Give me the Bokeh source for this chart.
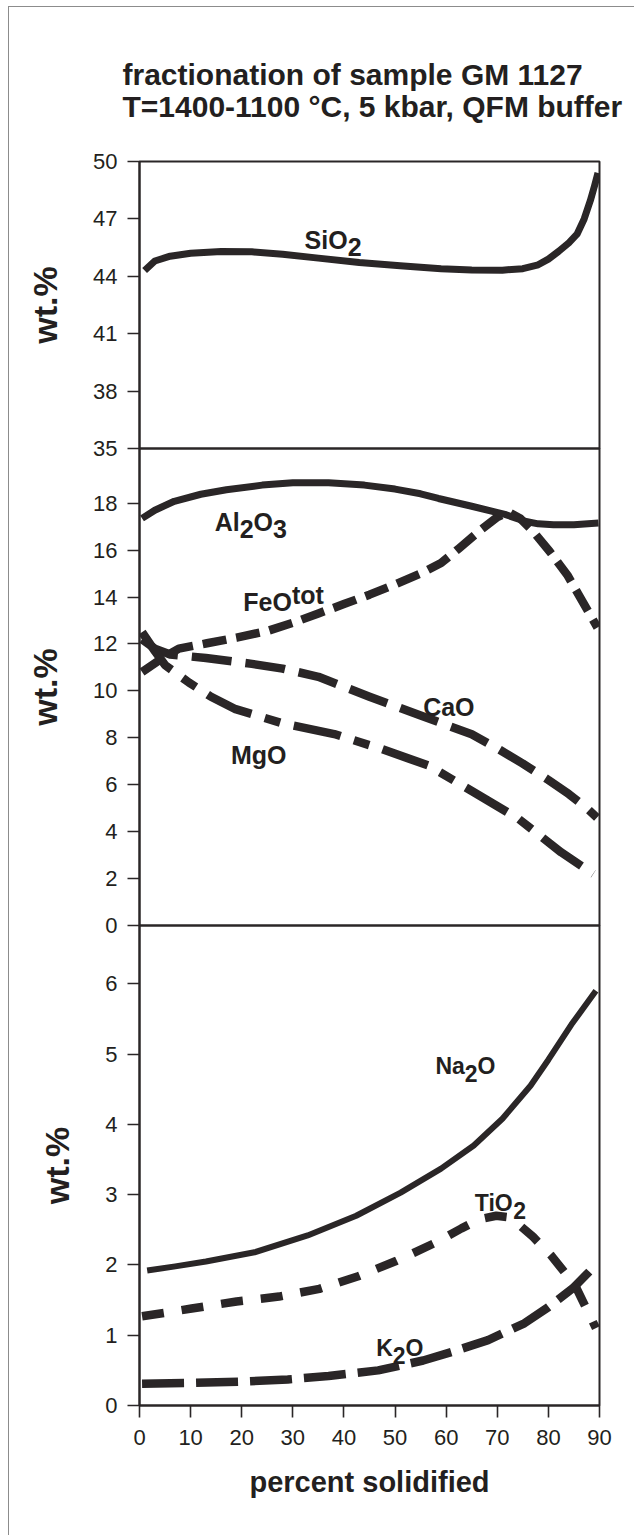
from bokeh.plotting import figure
from bokeh.models import Range1d, FixedTicker, Label, Title
from bokeh.layouts import column
from bokeh.embed import file_html
from bokeh.resources import INLINE

# ---------------- data ----------------
x_ticks = [0, 10, 20, 30, 40, 50, 60, 70, 80, 90]
top_ticks = [35, 38, 41, 44, 47, 50]
mid_ticks = [0, 2, 4, 6, 8, 10, 12, 14, 16, 18]
low_ticks = [0, 1, 2, 3, 4, 5, 6]

sio2_x = [1, 3, 6, 10, 16, 22, 28, 35, 43, 51, 59, 65, 71, 75, 78, 80, 82, 84, 85.6, 87, 88.2, 89, 89.7]
sio2_y = [44.3, 44.8, 45.05, 45.2, 45.3, 45.28, 45.15, 44.95, 44.72, 44.55, 44.4, 44.33, 44.32, 44.4,
          44.6, 44.9, 45.3, 45.75, 46.2, 47.0, 47.95, 48.7, 49.4]

al2o3_x = [0.5, 3, 6.8, 12, 17, 24, 30, 37, 44, 50, 55, 58.5, 65, 71.5, 75.4, 78, 81, 85, 89.8]
al2o3_y = [17.35, 17.7, 18.08, 18.38, 18.57, 18.77, 18.87, 18.87, 18.77, 18.6, 18.4, 18.2, 17.87,
           17.52, 17.23, 17.12, 17.08, 17.08, 17.15]

feo_x = [0.5, 4.5, 7.7, 13.2, 19, 25, 30, 35, 40, 45, 50, 55, 59, 62.5, 67, 70, 72.2, 74.5, 77,
         80.3, 83.7, 86.8, 89.6]
feo_y = [10.8, 11.4, 11.8, 12.03, 12.27, 12.55, 12.9, 13.3, 13.7, 14.1, 14.54, 15.0, 15.45, 16.07,
         16.9, 17.4, 17.62, 17.35, 16.8, 15.93, 14.94, 13.76, 12.7]

cao_x = [0.5, 3, 6, 13, 22, 28, 35, 45, 55, 65, 70, 75, 80, 84, 87, 89.5]
cao_y = [12.2, 11.8, 11.55, 11.4, 11.15, 10.95, 10.6, 9.75, 8.95, 8.15, 7.55, 6.9, 6.2, 5.6, 5.1, 4.6]

mgo_x = [0.5, 3, 5, 9.7, 14, 18.8, 28.1, 38.1, 47.4, 56.6, 65.5, 74.2, 82.5, 88.8]
mgo_y = [12.5, 11.7, 11.1, 10.35, 9.75, 9.22, 8.61, 8.16, 7.52, 6.81, 5.67, 4.54, 3.12, 2.2]

na2o_x = [1.5, 7, 13, 22.5, 32.9, 42.4, 51.1, 59, 65.4, 71, 76.5, 80, 84.5, 89.3]
na2o_y = [1.92, 1.98, 2.05, 2.18, 2.42, 2.70, 3.03, 3.37, 3.70, 4.08, 4.55, 4.92, 5.42, 5.9]

tio2_x = [0.5, 5, 10.2, 19, 27.3, 35.2, 42.8, 50.3, 58.3, 63, 66.5, 69.8, 72, 73.8, 77, 80.6, 85.3, 89.3]
tio2_y = [1.27, 1.32, 1.38, 1.48, 1.55, 1.66, 1.84, 2.06, 2.33, 2.52, 2.65, 2.7, 2.68, 2.6, 2.4,
          2.13, 1.7, 1.1]

k2o_x = [0.5, 10, 20, 29, 37, 46.7, 55.5, 61, 68.2, 75.3, 80, 84.8, 89.3]
k2o_y = [0.31, 0.32, 0.34, 0.37, 0.42, 0.50, 0.64, 0.76, 0.93, 1.17, 1.40, 1.67, 2.0]

title_lines = ["fractionation of sample GM 1127", "T=1400-1100 \u00b0C, 5 kbar, QFM buffer"]
x_label = "percent solidified"
y_label = "wt.%"

# ---------------- styling ----------------
INK = "#2a2627"
TEXT = "#231f20"
FONT = "Liberation Sans"
W = 625
FL, FR = 130, 35
E = 14

ARIAL_BOLD = {"S": 667, "i": 278, "O": 778, "A": 722, "l": 278, "F": 611, "e": 556, "t": 333,
              "o": 611, "C": 722, "a": 556, "M": 833, "g": 611, "N": 722, "T": 611, "K": 722,
              "2": 556, "3": 556}


def text_width(s, size):
    return sum(ARIAL_BOLD[c] for c in s) * size / 1000.0


def style_axis(ax, ticks, label, label_size, label_standoff, tick_standoff):
    ax.ticker = FixedTicker(ticks=ticks)
    ax.axis_line_color = INK
    ax.axis_line_width = 2
    ax.major_tick_line_color = INK
    ax.major_tick_line_width = 1.6
    ax.major_tick_out = 12
    ax.major_tick_in = 0
    ax.minor_tick_line_color = None
    ax.major_label_text_font = FONT
    ax.major_label_text_font_size = "22px"
    ax.major_label_text_color = TEXT
    ax.major_label_standoff = tick_standoff
    ax.axis_label = label
    ax.axis_label_text_font = FONT
    ax.axis_label_text_font_style = "bold"
    ax.axis_label_text_font_size = label_size
    ax.axis_label_text_color = TEXT
    ax.axis_label_standoff = label_standoff


x_range = Range1d(0, 90)


def panel(height, yr, ticks, top, bottom, with_x):
    p = figure(width=W, height=height, x_range=x_range, y_range=Range1d(*yr),
               output_backend="svg", toolbar_location=None,
               x_axis_location="below" if with_x else None,
               min_border_left=FL, min_border_right=FR,
               min_border_top=top, min_border_bottom=bottom,
               border_fill_color=None, background_fill_color=None)
    p.grid.visible = False
    p.outline_line_color = INK
    p.outline_line_width = 2
    p.outline_line_alpha = 1.0
    style_axis(p.yaxis[0], ticks, y_label, "34px", 26, 10)
    if with_x:
        style_axis(p.xaxis[0], x_ticks, x_label, "29px", 18, 12)
    return p


def chem_label(p, x, y, pieces, size):
    dx = 0.0
    for txt, shift in pieces:
        p.add_layout(Label(x=x, y=y, x_offset=dx, y_offset=shift, text=txt,
                           text_font=FONT, text_font_style="bold",
                           text_font_size=f"{size}px", text_color=TEXT,
                           text_baseline="alphabetic", text_align="left"))
        dx += text_width(txt, size)


def curve(p, xs, ys, width, dash="solid"):
    p.line(xs, ys, line_color=INK, line_width=width, line_dash=dash,
           line_cap="butt", line_join="round")


# top panel
p1 = panel(441 + E, (35, 50), top_ticks, 154, E, False)
curve(p1, sio2_x, sio2_y, 7)
chem_label(p1, 32.3, 45.9, [("SiO", 0), ("2", -7)], 25)
p1.add_layout(Title(text="\n".join(title_lines), align="left", offset=-17, standoff=76,
                    text_font=FONT, text_font_style="bold", text_font_size="30px",
                    text_line_height=0.97, text_color=TEXT), "above")

# middle panel
p2 = panel(477 + 2 * E, (0, 20.33), mid_ticks, E, E, False)
curve(p2, feo_x, feo_y, 8.5, "24 10")
curve(p2, cao_x, cao_y, 8.5, "40 14")
curve(p2, mgo_x, mgo_y, 8.5, "48 14 16 14")
curve(p2, al2o3_x, al2o3_y, 7)
chem_label(p2, 14.7, 17.18, [("Al", 0), ("2", -7), ("O", 0), ("3", -7)], 25)
chem_label(p2, 20.3, 13.78, [("FeO", 0), ("tot", 7)], 25)
chem_label(p2, 55.5, 9.31, [("CaO", 0)], 25)
chem_label(p2, 17.9, 7.25, [("MgO", 0)], 25)
p2.margin = (-2 * E, 0, 0, 0)

# bottom panel
p3 = panel(610 + E, (0, 6.83), low_ticks, E, 130, True)
curve(p3, na2o_x, na2o_y, 6)
curve(p3, tio2_x, tio2_y, 8.5, "22 18")
curve(p3, k2o_x, k2o_y, 8.5, "42 12")
chem_label(p3, 57.9, 4.83, [("Na", 0), ("2", -7), ("O", 0)], 23)
chem_label(p3, 65.6, 2.88, [("TiO", 0), ("2", -7)], 23)
chem_label(p3, 46.3, 0.815, [("K", 0), ("2", -7), ("O", 0)], 23)
p3.margin = (-2 * E, 0, 0, 0)

layout = column(p1, p2, p3, margin=(6, 0, 0, 8),
                styles={"border-top": "1px solid #8c8c8c", "border-left": "1px solid #8c8c8c",
                        "background-color": "white"})

open("out.html", "w").write(file_html(layout, INLINE))
